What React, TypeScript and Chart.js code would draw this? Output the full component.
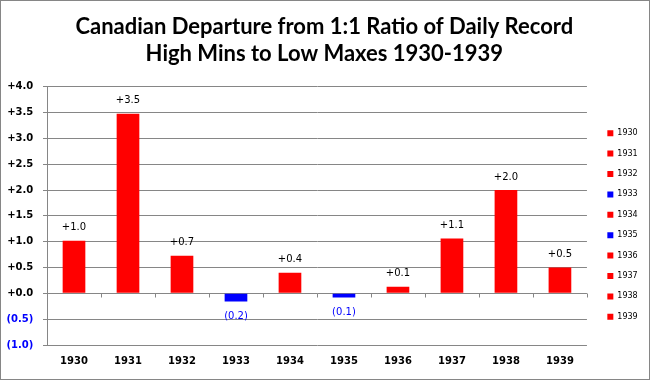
import React, { useEffect, useRef } from "react";
import { Chart, registerables } from "chart.js";

Chart.register(...registerables);

const years = ["1930", "1931", "1932", "1933", "1934", "1935", "1936", "1937", "1938", "1939"];
const departures = [1.02, 3.48, 0.73, -0.16, 0.4, -0.08, 0.13, 1.06, 2.0, 0.5];
const titleLines = [
  "Canadian Departure from 1:1 Ratio of Daily Record",
  "High Mins to Low Maxes 1930-1939",
];
const yMin = -1;
const yMax = 4;
const yStep = 0.5;

const POS = "#FF0000";
const NEG = "#0000FF";
const GRID = "#868686";

const fmt = (v: number) =>
  v < 0 ? "(" + Math.abs(v).toFixed(1) + ")" : "+" + v.toFixed(1);

const barColors = departures.map((v) => (v < 0 ? NEG : POS));

const labelPlugin = {
  id: "valueLabels",
  afterDatasetsDraw(chart: any) {
    const ctx = chart.ctx;
    const meta = chart.getDatasetMeta(0);
    ctx.save();
    ctx.font = "10px 'DejaVu Sans'";
    ctx.textAlign = "center";
    ctx.textBaseline = "middle";
    meta.data.forEach((el: any, i: number) => {
      const v = departures[i];
      if (v >= 0) {
        ctx.fillStyle = "#000000";
        ctx.fillText(fmt(v), el.x, el.y - 13);
      } else {
        ctx.fillStyle = NEG;
        ctx.fillText(fmt(v), el.x, el.y + 14.5);
      }
    });
    ctx.restore();
  },
  afterDraw(chart: any) {
    const ctx = chart.ctx;
    const xs = chart.scales.x;
    const ys = chart.scales.y;
    const y0 = Math.round(ys.getPixelForValue(0)) + 0.5;
    ctx.save();
    ctx.strokeStyle = GRID;
    ctx.lineWidth = 1;
    ctx.beginPath();
    for (let i = 0; i < years.length; i++) {
      const x = Math.round(xs.getPixelForValue(i + 0.5)) + 0.5;
      ctx.moveTo(x, y0);
      ctx.lineTo(x, y0 + 4);
    }
    ctx.stroke();
    ctx.restore();
  },
};

export default function App() {
  const ref = useRef<HTMLCanvasElement>(null);
  useEffect(() => {
    document.body.style.margin = "0";
    const chart = new Chart(ref.current!, {
      type: "bar",
      data: {
        labels: years,
        datasets: [
          {
            data: departures,
            backgroundColor: barColors,
            borderWidth: 0,
            barPercentage: 0.42,
            categoryPercentage: 1,
          },
        ],
      },
      plugins: [labelPlugin],
      options: {
        responsive: false,
        animation: false,
        layout: { padding: { top: 0, right: 1.3, bottom: 0, left: 0 } },
        plugins: {
          tooltip: { enabled: false },
          title: {
            display: true,
            text: titleLines,
            color: "#000000",
            font: { family: "Lato", weight: "bold", size: 22, lineHeight: 1.227 },
            padding: { top: 12, bottom: 19.8 },
          },
          legend: {
            display: true,
            position: "right",
            fullSize: false,
            title: { display: true, text: "", font: { size: 1, lineHeight: 1 }, padding: 8.6 },
            labels: {
              boxWidth: 6,
              boxHeight: 6,
              padding: 12.4,
              color: "#000000",
              font: { family: "DejaVu Sans", size: 8 },
              generateLabels: () =>
                years.map((y, i) => ({
                  text: y,
                  fillStyle: barColors[i],
                  strokeStyle: barColors[i],
                  fontColor: "#000000",
                  lineWidth: 0,
                  hidden: false,
                  index: i,
                  datasetIndex: 0,
                })),
            },
          },
        },
        scales: {
          x: {
            grid: { display: false, drawTicks: false },
            border: { display: false },
            ticks: {
              color: "#000000",
              font: { family: "DejaVu Sans", weight: "bold", size: 10 },
              padding: 10.5,
              maxRotation: 0,
            },
            afterFit: (s: any) => {
              s.height = 34;
            },
          },
          y: {
            min: yMin,
            max: yMax,
            ticks: {
              stepSize: yStep,
              padding: 9.7,
              font: { family: "DejaVu Sans", weight: "bold", size: 10 },
              color: (c: any) => (c.tick && c.tick.value < 0 ? NEG : "#000000"),
              callback: (v: any) => fmt(Number(v)),
            },
            grid: { color: GRID, lineWidth: 1, tickLength: 4, drawTicks: true },
            border: { display: true, color: GRID, width: 1 },
            afterFit: (s: any) => {
              s.width = 46;
            },
          },
          y2: {
            position: "right",
            display: true,
            grid: { display: false, drawTicks: false },
            border: { display: false },
            ticks: { display: false },
            afterFit: (s: any) => {
              s.width = 8;
            },
          },
        },
      },
    } as any);
    return () => chart.destroy();
  }, []);
  return (
    <div style={{ width: 648, height: 378, border: "1px solid #868686", background: "#fff" }}>
      <canvas ref={ref} width={648} height={378} style={{ display: "block", width: 648, height: 378 }} />
    </div>
  );
}
